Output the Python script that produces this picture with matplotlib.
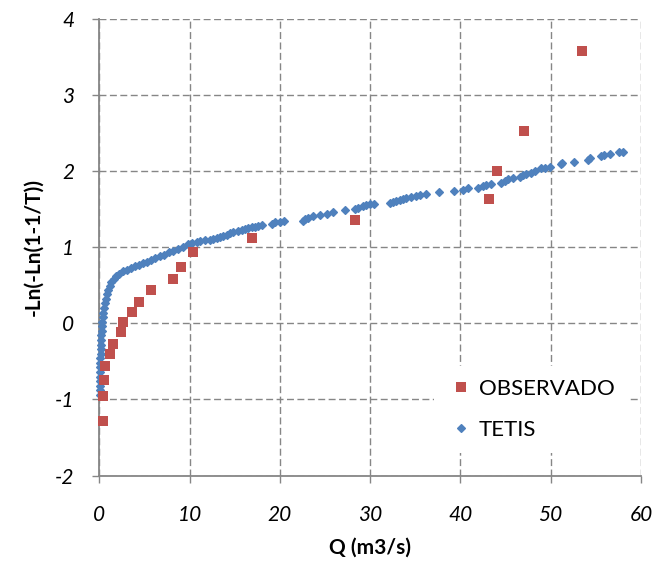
import matplotlib.pyplot as plt

# === Data ===
obs_q = [0.39, 0.42, 0.50, 0.61, 1.16, 1.50, 2.35, 2.64, 3.63, 4.34,
         5.70, 8.20, 9.00, 10.35, 16.9, 28.3, 43.2, 44.1, 47.0, 53.5]
obs_y = [-1.29, -0.96, -0.75, -0.56, -0.41, -0.27, -0.12, 0.01, 0.15, 0.28,
         0.43, 0.58, 0.74, 0.93, 1.12, 1.35, 1.63, 2.00, 2.53, 3.58]

tetis_q = [0.02, 0.03, 0.04, 0.05, 0.06, 0.07, 0.08, 0.09, 0.10, 0.12,
           0.14, 0.16, 0.19, 0.22, 0.25, 0.28, 0.32, 0.37, 0.43, 0.50,
           0.58, 0.68, 0.80, 0.95, 1.12, 1.33, 1.58, 1.87, 2.20, 2.60,
           3.00, 3.45, 3.90, 4.35, 4.80, 5.25, 5.70, 6.20, 6.70, 7.20,
           7.70, 8.20, 8.70, 9.20, 9.84, 10.21, 10.76, 11.13, 11.68, 12.24,
           12.60, 12.98, 13.34, 13.71, 14.08, 14.45, 14.82, 15.37, 15.75, 16.11,
           16.48, 16.85, 17.22, 17.59, 18.03, 19.07, 19.44, 19.99, 20.47, 22.57,
           22.76, 23.13, 23.68, 24.42, 25.16, 25.90, 27.19, 28.29, 28.66, 29.22,
           29.59, 29.96, 30.40, 32.17, 32.54, 32.90, 33.28, 33.64, 34.02, 34.57,
           35.13, 35.49, 36.24, 37.60, 39.26, 40.29, 40.84, 41.95, 42.50, 42.88,
           43.36, 44.54, 44.91, 45.27, 45.83, 46.57, 46.93, 47.31, 47.86, 48.23,
           48.97, 49.34, 49.97, 51.19, 51.30, 52.58, 54.13, 54.32, 55.60, 55.87,
           56.61, 57.56, 58.00]
tetis_y = [-0.94, -0.88, -0.82, -0.76, -0.70, -0.64, -0.58, -0.52, -0.46, -0.40,
           -0.34, -0.28, -0.22, -0.16, -0.10, -0.04, 0.02, 0.08, 0.14, 0.20,
           0.26, 0.32, 0.38, 0.44, 0.49, 0.54, 0.58, 0.62, 0.65, 0.68,
           0.70, 0.72, 0.75, 0.77, 0.79, 0.81, 0.83, 0.86, 0.88, 0.90,
           0.93, 0.95, 0.97, 1.00, 1.045, 1.053, 1.066, 1.075, 1.088, 1.092,
           1.106, 1.12, 1.128, 1.141, 1.163, 1.185, 1.198, 1.207, 1.22, 1.238,
           1.251, 1.26, 1.269, 1.277, 1.295, 1.309, 1.326, 1.335, 1.339, 1.348,
           1.365, 1.383, 1.405, 1.427, 1.44, 1.462, 1.48, 1.497, 1.515, 1.533,
           1.546, 1.559, 1.568, 1.572, 1.586, 1.599, 1.612, 1.625, 1.638, 1.652,
           1.665, 1.678, 1.70, 1.718, 1.735, 1.744, 1.77, 1.778, 1.80, 1.814,
           1.823, 1.844, 1.867, 1.889, 1.91, 1.924, 1.942, 1.955, 1.976, 1.999,
           2.034, 2.042, 2.055, 2.087, 2.104, 2.121, 2.144, 2.166, 2.197, 2.21,
           2.227, 2.245, 2.253]

x_ticks = [0, 10, 20, 30, 40, 50, 60]
y_ticks = [-2, -1, 0, 1, 2, 3, 4]

# === Style ===
plt.rcParams['font.family'] = ['Lato', 'DejaVu Sans']
plt.rcParams['axes.unicode_minus'] = False
axis_grey = "#868686"
red = "#C0504D"
blue = "#4F81BD"

fig = plt.figure(figsize=(6.58, 5.68), dpi=100)
ax = fig.add_axes([0.1512, 0.1628, 0.974 - 0.1512, 0.9673 - 0.1628])

ax.plot(tetis_q, tetis_y, linestyle="none", marker="D", markersize=3.7,
        color=blue, markeredgewidth=0.9, markeredgecolor=blue,
        label="TETIS", zorder=3, clip_on=False)
ax.plot(obs_q, obs_y, linestyle="none", marker="s", markersize=7.2,
        color=red, markeredgewidth=0, label="OBSERVADO", zorder=4,
        clip_on=False)

ax.set_xlim(0, 60)
ax.set_ylim(-2, 4)
ax.set_xticks(x_ticks)
ax.set_yticks(y_ticks)

ax.grid(True, color=axis_grey, linestyle=(0, (5, 2.5)), linewidth=1.0)
ax.set_axisbelow(True)
for side in ["top", "right"]:
    ax.spines[side].set_visible(False)
for side in ["left", "bottom"]:
    ax.spines[side].set_color(axis_grey)
    ax.spines[side].set_linewidth(1.3)

ax.tick_params(direction="out", length=5, width=1.0, color=axis_grey,
               labelsize=15)
ax.tick_params(axis="x", pad=16)
ax.tick_params(axis="y", pad=13)
for lbl in ax.get_xticklabels() + ax.get_yticklabels():
    lbl.set_fontstyle("italic")

ax.set_xlabel("Q (m3/s)", fontsize=15, fontweight="bold", labelpad=9)
ax.set_ylabel("-Ln(-Ln(1-1/T))", fontsize=15, fontweight="bold", labelpad=8)

handles, labels = ax.get_legend_handles_labels()
leg = ax.legend(handles[::-1], labels[::-1], loc="center left",
                bbox_to_anchor=(0.598, 0.1445), frameon=True, fontsize=16,
                handletextpad=0.2, handlelength=1.2, labelspacing=0.94,
                borderpad=0.6, markerscale=1.0)
leg.get_frame().set_edgecolor("none")
leg.get_frame().set_facecolor("white")
leg.get_frame().set_alpha(1.0)

fig.savefig("out.png", dpi=100)
